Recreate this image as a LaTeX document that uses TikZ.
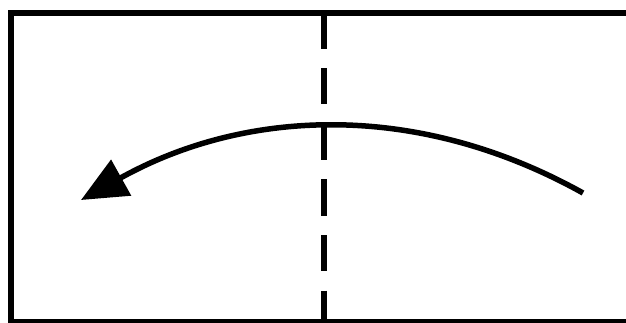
\documentclass[tikz,border=0pt]{standalone}
\usepackage{tikz}
\usetikzlibrary{arrows.meta}

\begin{document}
\begin{tikzpicture}[x=1pt,y=-1pt]
    \tikzstyle{frame}=[line width=5.5pt]
    \tikzstyle{fold}=[line width=6pt,dash pattern=on 36pt off 19.5pt]
    \tikzstyle{turn}=[line width=5.5pt,-{Triangle[length=46pt,width=40pt]}]
    \useasboundingbox (0,0) rectangle (626,323);
    \clip (0,0) rectangle (626,323);
    \fill[white] (0,0) rectangle (626,323);
    \draw[frame] (11,13) rectangle (650,322);
    \coordinate (ft) at (324,13);
    \coordinate (fb) at (324,321);
    \draw[fold] (ft) -- (fb);
    \coordinate (src) at (583,193);
    \coordinate (dst) at (81,200);
    \draw[turn] (src) .. controls (418,101) and (246,108) .. (dst);
  \end{tikzpicture}
\end{document}
